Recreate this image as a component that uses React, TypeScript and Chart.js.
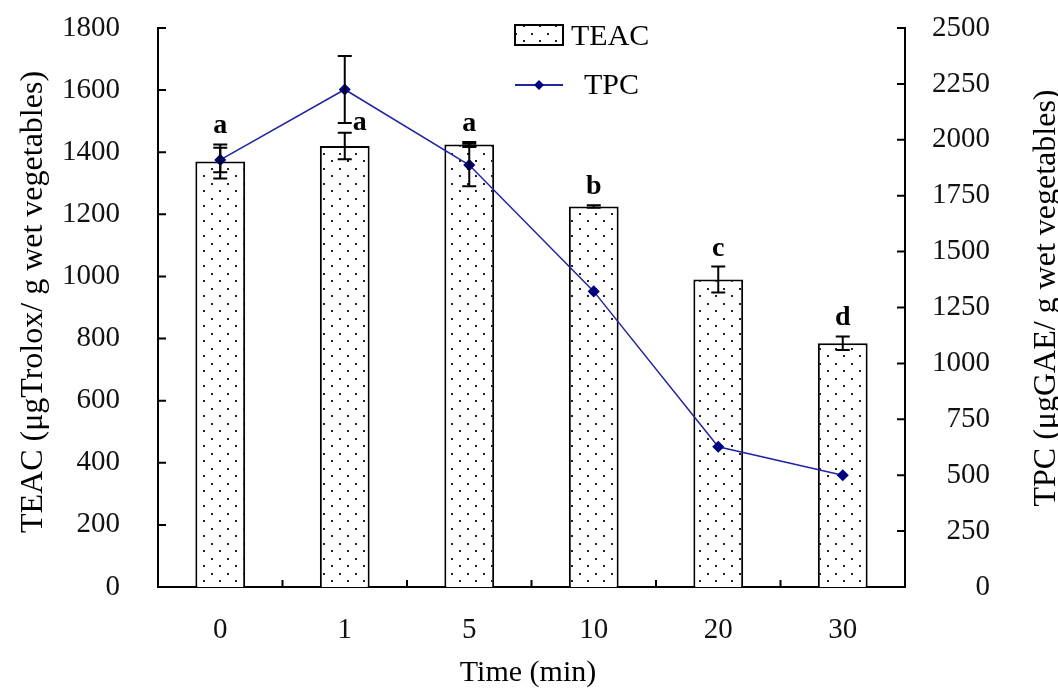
import React, { useEffect, useRef } from 'react';
import { Chart, registerables } from 'chart.js';

Chart.register(...registerables);

const timeLabels = ['0', '1', '5', '10', '20', '30'];
const teacValues = [1370, 1420, 1425, 1225, 990, 785];
const teacErrors = [55, 43, 8, 4, 42, 22];
const tpcValues = [1910, 2225, 1887, 1322, 627, 500];
const tpcErrors = [55, 150, 95, 0, 0, 0];
const sigLetters = ['a', 'a', 'a', 'b', 'c', 'd'];

const SERIF = "'Liberation Serif', 'Times New Roman', serif";
const NAVY = '#000080';
const LINE = '#2424a0';

function makePattern(): CanvasPattern | string {
  const c = document.createElement('canvas');
  c.width = 16;
  c.height = 15;
  const g = c.getContext('2d');
  if (!g) return '#fff';
  g.fillStyle = '#fff';
  g.fillRect(0, 0, 16, 15);
  g.fillStyle = '#222';
  g.fillRect(3, 3, 2, 2);
  g.fillRect(11, 10, 2, 2);
  return g.createPattern(c, 'repeat') || '#fff';
}

const zeroPad = (s: any) => {
  s.paddingTop = 0;
  s.paddingBottom = 0;
  s.paddingLeft = 0;
  s.paddingRight = 0;
};

export default function App() {
  const ref = useRef<HTMLCanvasElement | null>(null);

  useEffect(() => {
    if (!ref.current) return;
    const pattern = makePattern();

    const overlay = {
      id: 'overlay',
      afterDatasetsDraw(chart: any) {
        const ctx = chart.ctx as CanvasRenderingContext2D;
        const x = chart.scales.x;
        const y = chart.scales.y;
        const y1 = chart.scales.y1;
        const area = chart.chartArea;
        ctx.save();
        ctx.strokeStyle = '#000';
        ctx.lineWidth = 2;
        const cap = 7;
        const drawErr = (px: number, hi: number, lo: number) => {
          ctx.beginPath();
          ctx.moveTo(px, hi);
          ctx.lineTo(px, lo);
          ctx.moveTo(px - cap, hi);
          ctx.lineTo(px + cap, hi);
          ctx.moveTo(px - cap, lo);
          ctx.lineTo(px + cap, lo);
          ctx.stroke();
        };
        teacValues.forEach((v, i) => {
          const px = x.getPixelForValue(i);
          drawErr(px, y.getPixelForValue(v + teacErrors[i]), y.getPixelForValue(v - teacErrors[i]));
        });
        tpcValues.forEach((v, i) => {
          if (!tpcErrors[i]) return;
          const px = x.getPixelForValue(i);
          drawErr(px, y1.getPixelForValue(v + tpcErrors[i]), y1.getPixelForValue(v - tpcErrors[i]));
        });

        // inward tick marks
        ctx.lineWidth = 2;
        ctx.beginPath();
        y.ticks.forEach((t: any) => {
          const py = y.getPixelForValue(t.value);
          ctx.moveTo(area.left, py);
          ctx.lineTo(area.left + 8, py);
        });
        y1.ticks.forEach((t: any) => {
          const py = y1.getPixelForValue(t.value);
          ctx.moveTo(area.right, py);
          ctx.lineTo(area.right - 8, py);
        });
        for (let i = 0; i < timeLabels.length - 1; i++) {
          const px = (x.getPixelForValue(i) + x.getPixelForValue(i + 1)) / 2;
          ctx.moveTo(px, area.bottom);
          ctx.lineTo(px, area.bottom - 7);
        }
        ctx.stroke();

        // significance letters
        ctx.fillStyle = '#000';
        ctx.font = `bold 28px ${SERIF}`;
        ctx.textAlign = 'center';
        ctx.textBaseline = 'alphabetic';
        sigLetters.forEach((s, i) => {
          const px = x.getPixelForValue(i);
          const top = y.getPixelForValue(teacValues[i] + teacErrors[i]);
          const shifted = i === 1;
          ctx.fillText(s, px + (shifted ? 15 : 0), top - (shifted ? 3 : 11));
        });
        ctx.restore();
      },
      afterDraw(chart: any) {
        const ctx = chart.ctx as CanvasRenderingContext2D;
        ctx.save();
        ctx.fillStyle = '#000';
        // axis titles
        ctx.font = `32px ${SERIF}`;
        ctx.textAlign = 'center';
        ctx.textBaseline = 'alphabetic';
        ctx.save();
        ctx.translate(42, 302);
        ctx.rotate(-Math.PI / 2);
        ctx.fillText('TEAC (\u03bcgTrolox/ g wet vegetables)', 0, 0);
        ctx.restore();
        ctx.save();
        ctx.translate(1055, 298);
        ctx.rotate(-Math.PI / 2);
        ctx.fillText('TPC (\u03bcgGAE/ g wet vegetables)', 0, 0);
        ctx.restore();
        ctx.font = `30px ${SERIF}`;
        ctx.fillText('Time (min)', 528, 681);

        // legend
        ctx.fillStyle = pattern as any;
        ctx.fillRect(515, 25, 48, 20);
        ctx.strokeStyle = '#000';
        ctx.lineWidth = 2;
        ctx.strokeRect(515, 25, 48, 20);
        ctx.fillStyle = '#000';
        ctx.font = `30px ${SERIF}`;
        ctx.textAlign = 'left';
        ctx.textBaseline = 'middle';
        ctx.fillText('TEAC', 571, 37);
        ctx.strokeStyle = LINE;
        ctx.lineWidth = 2;
        ctx.beginPath();
        ctx.moveTo(515, 85);
        ctx.lineTo(563, 85);
        ctx.stroke();
        ctx.fillStyle = NAVY;
        ctx.beginPath();
        ctx.moveTo(539, 80);
        ctx.lineTo(544, 85);
        ctx.lineTo(539, 90);
        ctx.lineTo(534, 85);
        ctx.closePath();
        ctx.fill();
        ctx.fillStyle = '#000';
        ctx.fillText('TPC', 584, 86);
        ctx.restore();
      },
    };

    const plainNumber = (v: any) => String(v);

    const chart = new Chart(ref.current, {
      type: 'bar',
      data: {
        labels: timeLabels,
        datasets: [
          {
            type: 'line',
            label: 'TPC',
            data: tpcValues,
            yAxisID: 'y1',
            borderColor: LINE,
            borderWidth: 1.5,
            pointStyle: 'rectRot',
            pointRadius: 5,
            pointBackgroundColor: NAVY,
            pointBorderColor: NAVY,
            tension: 0,
            order: 0,
          } as any,
          {
            type: 'bar',
            label: 'TEAC',
            data: teacValues,
            yAxisID: 'y',
            backgroundColor: pattern as any,
            borderColor: '#000',
            borderWidth: 2,
            barPercentage: 0.4,
            categoryPercentage: 1.0,
            order: 1,
          } as any,
        ],
      },
      options: {
        responsive: false,
        animation: false,
        layout: { padding: { top: 28, left: 0, right: 68, bottom: 0 } },
        plugins: {
          legend: { display: false },
          tooltip: { enabled: false },
        },
        scales: {
          x: {
            offset: true,
            grid: { display: false, drawTicks: false },
            border: { display: true, color: '#000', width: 2 },
            ticks: {
              color: '#111',
              font: { family: SERIF, size: 29 },
              padding: 26,
              maxRotation: 0,
              autoSkip: false,
            },
            afterFit: (s: any) => {
              s.height = 102;
              zeroPad(s);
            },
          },
          y: {
            position: 'left',
            min: 0,
            max: 1800,
            grid: { display: false, drawTicks: false },
            border: { display: true, color: '#000', width: 2 },
            ticks: {
              stepSize: 200,
              color: '#111',
              font: { family: SERIF, size: 29 },
              padding: 38,
              autoSkip: false,
              callback: plainNumber,
            },
            afterFit: (s: any) => {
              s.width = 158;
              zeroPad(s);
            },
          },
          y1: {
            position: 'right',
            min: 0,
            max: 2500,
            grid: { display: false, drawTicks: false },
            border: { display: true, color: '#000', width: 2 },
            ticks: {
              stepSize: 250,
              color: '#111',
              font: { family: SERIF, size: 29 },
              padding: 20,
              crossAlign: 'far',
              autoSkip: false,
              callback: plainNumber,
            },
            afterFit: (s: any) => {
              s.width = 85;
              zeroPad(s);
            },
          },
        },
      } as any,
      plugins: [overlay],
    });

    return () => chart.destroy();
  }, []);

  return (
    <div style={{ position: 'fixed', left: 0, top: 0, width: 1058, height: 689, background: '#fff' }}>
      <canvas ref={ref} width={1058} height={689} style={{ display: 'block' }} />
    </div>
  );
}
